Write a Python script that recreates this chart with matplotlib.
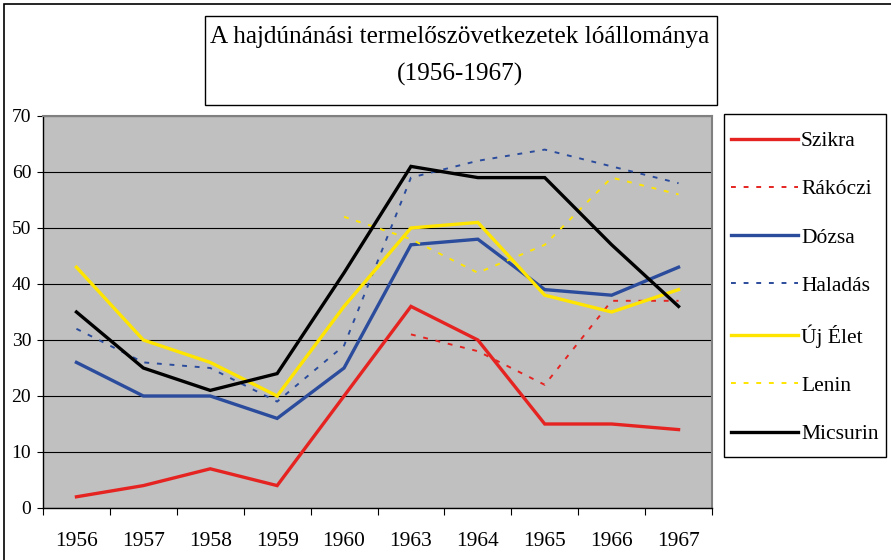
import matplotlib.pyplot as plt
from matplotlib.patches import Rectangle

plt.rcParams['font.family'] = ['Liberation Serif', 'DejaVu Serif']

years = ['1956', '1957', '1958', '1959', '1960', '1963', '1964', '1965', '1966', '1967']

szikra = [2, 4, 7, 4, 20, 36, 30, 15, 15, 14]
rakoczi = [None, None, None, None, None, 31, 28, 22, 37, 37]
dozsa = [26, 20, 20, 16, 25, 47, 48, 39, 38, 43]
haladas = [32, 26, 25, 19, 29, 59, 62, 64, 61, 58]
uj_elet = [43, 30, 26, 20, 36, 50, 51, 38, 35, 39]
lenin = [None, None, None, None, 52, 48, 42, 47, 59, 56]
micsurin = [35, 25, 21, 24, 42, 61, 59, 59, 47, 36]

RED = '#e52421'
BLUE = '#2b4c9c'
YELLOW = '#ffe500'

W, H = 891, 560
fig = plt.figure(figsize=(W / 100, H / 100), dpi=100)

# outer frame (cut off on right and bottom)
fig.patches.append(Rectangle((4 / W, -0.05), 1.0, 1 - 4 / H + 0.05, transform=fig.transFigure,
                             fill=False, edgecolor='black', lw=1.2))

# title box
fig.patches.append(Rectangle((205 / W, 1 - 105 / H), 512 / W, 89 / H, transform=fig.transFigure,
                             fill=False, edgecolor='black', lw=1.0))
fig.text(460 / W, 1 - 37 / H, 'A hajdúnánási termelőszövetkezetek lóállománya',
         ha='center', va='center', fontsize=18.2)
fig.text(460 / W, 1 - 74 / H, '(1956-1967)', ha='center', va='center', fontsize=18.2)

# legend box
fig.patches.append(Rectangle((724 / W, 1 - 457 / H), 162 / W, 343 / H, transform=fig.transFigure,
                             fill=False, edgecolor='black', lw=1.0))

ax = fig.add_axes([43 / W, 1 - 508 / H, (712 - 43) / W, (508 - 116) / H])
ax.set_facecolor('#c0c0c0')

x = list(range(len(years)))
solid = dict(lw=2.4, solid_joinstyle='miter')
dash = dict(lw=1.4, dashes=(2.5, 4))
ax.plot(x, szikra, color=RED, label='Szikra', **solid)
ax.plot(x, [float('nan') if v is None else v for v in rakoczi], color=RED, label='Rákóczi', **dash)
ax.plot(x, dozsa, color=BLUE, label='Dózsa', **solid)
ax.plot(x, haladas, color=BLUE, label='Haladás', **dash)
ax.plot(x, uj_elet, color=YELLOW, label='Új Élet', **solid)
ax.plot(x, [float('nan') if v is None else v for v in lenin], color=YELLOW, label='Lenin', **dash)
ax.plot(x, micsurin, color='black', label='Micsurin', **solid)

ax.set_xlim(-0.5, len(years) - 0.5)
ax.set_ylim(0, 70)
ax.set_yticks(range(0, 71, 10))
ax.yaxis.grid(True, color='black', lw=0.8)
ax.set_axisbelow(True)

ax.set_xticks(x)
ax.set_xticklabels(years, fontsize=15.5)
ax.set_xticks([i - 0.5 for i in range(len(years) + 1)], minor=True)
ax.tick_params(axis='x', which='major', length=0, pad=17)
ax.tick_params(axis='x', which='minor', length=5, width=0.8, direction='out')
ax.tick_params(axis='y', length=4.5, width=0.8, pad=4, labelsize=14)

ax.spines['left'].set_color('black')
ax.spines['bottom'].set_color('black')
ax.spines['left'].set_linewidth(1.0)
ax.spines['bottom'].set_linewidth(1.0)
ax.spines['top'].set_color('#808080')
ax.spines['right'].set_color('#808080')
ax.spines['top'].set_linewidth(1.5)
ax.spines['right'].set_linewidth(1.5)

leg = fig.legend(loc='upper left', bbox_to_anchor=(731 / W, 1 - 131 / H), bbox_transform=fig.transFigure,
                 fontsize=15.5, handlelength=3.1, handletextpad=0.15, labelspacing=1.31,
                 borderpad=0, borderaxespad=0, frameon=False)

fig.savefig('out.png', dpi=100)
